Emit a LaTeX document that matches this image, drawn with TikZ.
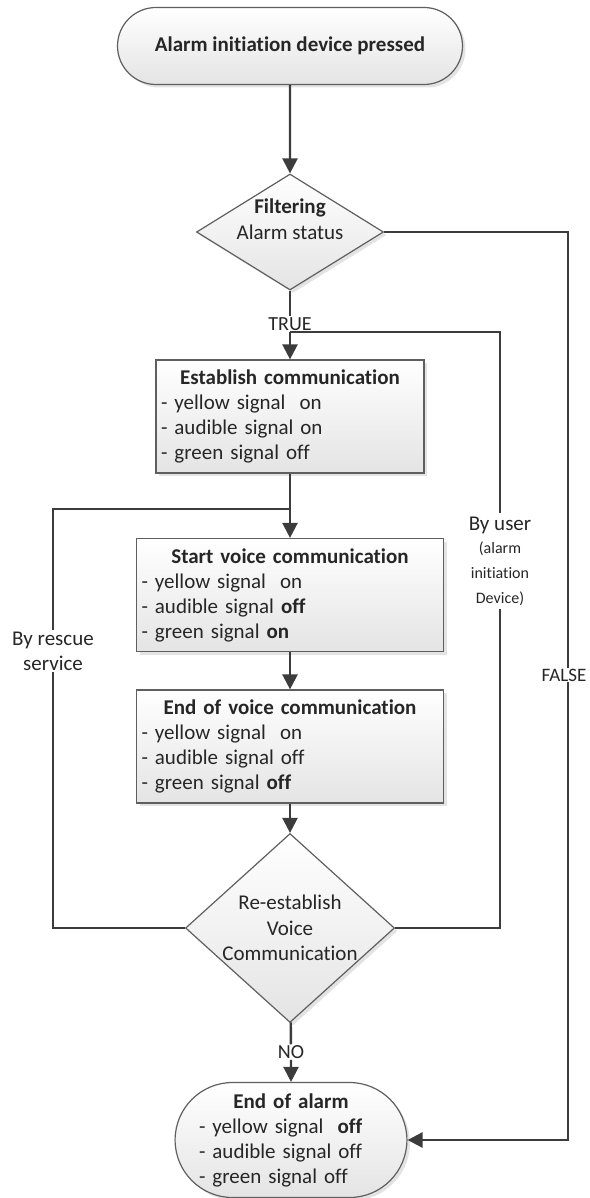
\documentclass[tikz,border=0pt]{standalone}
\usepackage{fontspec}
\setmainfont{Carlito}[Ligatures=NoCommon]
\usepackage{tikz}
\usetikzlibrary{shapes.geometric, shapes.misc, arrows.meta, positioning, shadows}
\definecolor{mydark}{RGB}{60,60,60}
\definecolor{myedge}{RGB}{95,95,95}
\definecolor{mytext}{RGB}{38,38,38}
\definecolor{myfill}{RGB}{228,228,228}
\newcommand{\smalltxt}{\fontsize{16}{21}\selectfont}
\tikzset{
  softfill/.style={top color=white, bottom color=myfill,
    drop shadow={opacity=0.22, shadow xshift=3pt, shadow yshift=-3pt}},
  stepbox/.style={rectangle, draw=myedge, line width=1.2pt, softfill,
    align=left, minimum height=113pt, inner sep=5pt,
    font=\fontsize{21}{25}\selectfont, text=mytext},
  terminal/.style={rounded rectangle, draw=myedge, line width=1.2pt, softfill,
    inner sep=0pt, font=\fontsize{21}{25}\selectfont, text=mytext},
  decision/.style={diamond, draw=myedge, line width=1.2pt, softfill,
    inner sep=0pt},
  dtext/.style={align=center, inner sep=0pt,
    font=\fontsize{21}{25.5}\selectfont, text=mytext},
  lbl/.style={align=center, inner sep=1pt, text=mytext},
  line/.style={line width=2.4pt, color=mydark},
  arrow/.style={line width=2.4pt, color=mydark,
    -{Triangle[length=15pt, width=15pt]}}
}

\begin{document}
\begin{tikzpicture}[x=1pt, y=-1pt]
  \useasboundingbox (0,0) rectangle (589,1198);

  % Start
  \node[terminal, minimum width=345pt, minimum height=77pt, font=\fontsize{21}{25}\selectfont\bfseries]
    (start) at (290,46) {Alarm initiation device pressed};

  % Filtering
  \node[decision, minimum width=187pt, minimum height=116pt] (filt) at (290,232) {};
  \node[dtext] (filttxt) at (290,219) {\textbf{Filtering}\\Alarm status};
  \node[lbl, font=\fontsize{20}{24}\selectfont] (truelbl) at (290,324) {TRUE};
  \coordinate (juser) at (290,332);

  % Steps
  \node[stepbox, text width=258pt] (estab) at (290,416.5) {%
    {\centering\bfseries Establish communication\par}
    - yellow signal\ \ on\\
    - audible signal on\\
    - green signal off};
  \coordinate (jrescue) at (290,509);
  \node[stepbox, text width=297pt] (startv) at (290,595) {%
    {\centering\bfseries Start voice communication\par}
    - yellow signal\ \ on\\
    - audible signal \textbf{off}\\
    - green signal \textbf{on}};
  \node[stepbox, text width=297pt] (endv) at (290,746.5) {%
    {\centering\bfseries End of voice communication\par}
    - yellow signal\ \ on\\
    - audible signal off\\
    - green signal \textbf{off}};

  % Re-establish
  \node[decision, minimum width=209pt, minimum height=189pt] (reest) at (290,928) {};
  \node[dtext] (reesttxt) at (290,928) {Re-establish\\Voice\\Communication};
  \node[lbl, font=\fontsize{20}{24}\selectfont] (nolbl) at (291,1052) {NO};

  % End
  \node[terminal, minimum width=231pt, minimum height=115pt, text width=184pt, align=left]
    (endal) at (291,1140) {%
    {\centering\bfseries End of alarm\par}
    - yellow signal\ \ \textbf{off}\\
    - audible signal off\\
    - green signal off};

  % Side labels
  \node[lbl, font=\fontsize{21}{25}\selectfont] (rescuelbl) at (53,651) {By rescue\\service};
  \node[lbl, inner sep=3pt, font=\fontsize{21}{25}\selectfont] (userlbl) at (500,561)
    {By user\\[-2pt]\smalltxt (alarm\\\smalltxt initiation\\\smalltxt Device)};
  \node[lbl, font=\fontsize{19}{23}\selectfont] (falselbl) at (564,675) {FALSE};

  % Main flow
  \draw[arrow] (start) -- (filt);
  \draw[line] (filt) -- (truelbl);
  \draw[arrow] (juser) -- (estab);
  \draw[arrow] (estab) -- (startv);
  \draw[arrow] (startv) -- (endv);
  \draw[arrow] (endv) -- (reest);
  \draw[line] (reest) -- (nolbl);
  \draw[arrow] (nolbl) -- (endal);

  % Loops back
  \draw[line] (reest.west) -| (rescuelbl.south);
  \draw[line] (rescuelbl.north) |- (jrescue);
  \draw[line] (reest.east) -| (userlbl.south);
  \draw[line] (userlbl.north) |- (juser);

  % False branch
  \draw[line] (filt.east) -| ([xshift=4pt]falselbl.north);
  \draw[arrow] ([xshift=4pt]falselbl.south) |- (endal.east);
\end{tikzpicture}
\end{document}
